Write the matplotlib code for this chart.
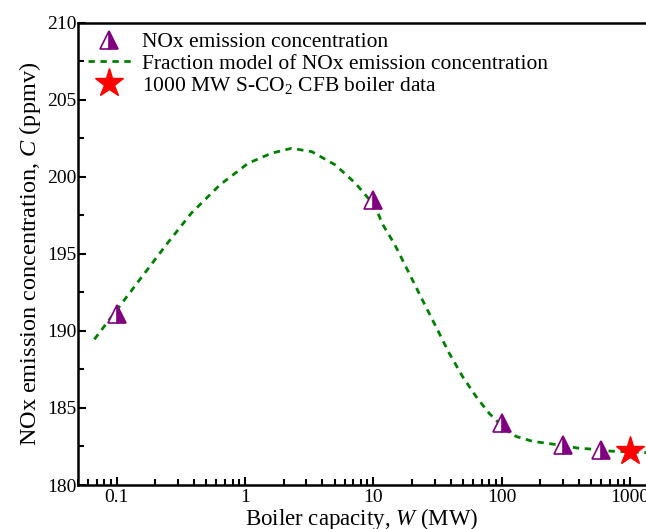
import numpy as np
import matplotlib
matplotlib.use("Agg")
import matplotlib.pyplot as plt
from matplotlib.ticker import LogLocator, FixedLocator, MultipleLocator, NullFormatter

plt.rcParams['font.family'] = ['Liberation Serif', 'DejaVu Serif']
plt.rcParams['mathtext.fontset'] = 'custom'
plt.rcParams['mathtext.rm'] = 'Liberation Serif'
plt.rcParams['mathtext.it'] = 'Liberation Serif:italic'

# Measured NOx emission points
cap_mw = [0.1, 10, 100, 300, 600]
nox_ppmv = [191.1, 198.5, 184.0, 182.6, 182.3]

# 1000 MW S-CO2 CFB boiler
star_mw = [1000]
star_ppmv = [182.2]

# Fraction model curve
model_mw = [0.067, 0.1, 0.169, 0.243, 0.382, 0.637, 1.06, 1.61, 2.31, 3.32,
            5.06, 7.26, 10.4, 11.7, 14.7, 19.0, 24.1, 30.7, 39.0, 49.6,
            63.1, 80, 108, 130, 175, 280, 390, 560, 700, 1000, 1350]
model_ppmv = [189.45, 191.35, 193.85, 195.58, 197.64, 199.47, 200.88, 201.53, 201.85, 201.63,
              200.77, 199.58, 198.06, 196.98, 195.6, 193.75, 192.02, 190.29, 188.56, 187.04,
              185.75, 184.65, 183.57, 183.15, 182.83, 182.6, 182.4, 182.3, 182.2, 182.15, 182.1]

fig = plt.figure(figsize=(6.46, 5.29), dpi=100)
ax = fig.add_axes([78 / 646, 44 / 529, 1 - 78 / 646, 462.3 / 529])

ax.plot(cap_mw, nox_ppmv, linestyle='none', marker='^', markersize=13,
        color='#800080', markeredgecolor='#800080', fillstyle='right',
        markerfacecoloralt='white', markeredgewidth=1.2,
        label='NOx emission concentration', zorder=3)
ax.plot(model_mw, model_ppmv, color='#008000', linewidth=2,
        linestyle=(0, (2.3, 2.0)),
        label='Fraction model of NOx emission concentration', zorder=2)
ax.plot(star_mw, star_ppmv, linestyle='none', marker='*', markersize=21,
        color='red', markeredgecolor='red',
        label='1000 MW S-CO$_2$ CFB boiler data', zorder=4)

ax.set_xscale('log')
ax.set_xlim(0.05, 1334)
ax.set_ylim(180, 210)

ax.xaxis.set_major_locator(FixedLocator([0.1, 1, 10, 100, 1000]))
ax.set_xticklabels(['0.1', '1', '10', '100', '1000'])
ax.xaxis.set_minor_locator(LogLocator(base=10, subs=np.arange(2, 10)))
ax.xaxis.set_minor_formatter(NullFormatter())
ax.yaxis.set_major_locator(MultipleLocator(5))
ax.yaxis.set_minor_locator(MultipleLocator(2.5))

ax.tick_params(which='both', direction='in', top=False, right=False,
               labelsize=14, width=1.5)
ax.tick_params(which='major', length=6)
ax.tick_params(which='minor', length=4)
ax.tick_params(axis='y', pad=1)
ax.tick_params(axis='x', pad=3)

for side in ['left', 'bottom', 'top']:
    ax.spines[side].set_linewidth(1.8)
ax.spines['right'].set_visible(False)

ax.set_xlabel('Boiler capacity, $\\it{W}$ (MW)', fontsize=16.5, labelpad=0)
ax.set_ylabel('NOx emission concentration, $\\it{C}$ (ppmv)', fontsize=17.5, labelpad=3)

ax.legend(loc='upper left', frameon=False, fontsize=15.5, handlelength=2.0,
          handletextpad=0.5, labelspacing=0.05, borderaxespad=0.05,
          bbox_to_anchor=(0.0, 1.0))

fig.savefig('out.png', dpi=100)
